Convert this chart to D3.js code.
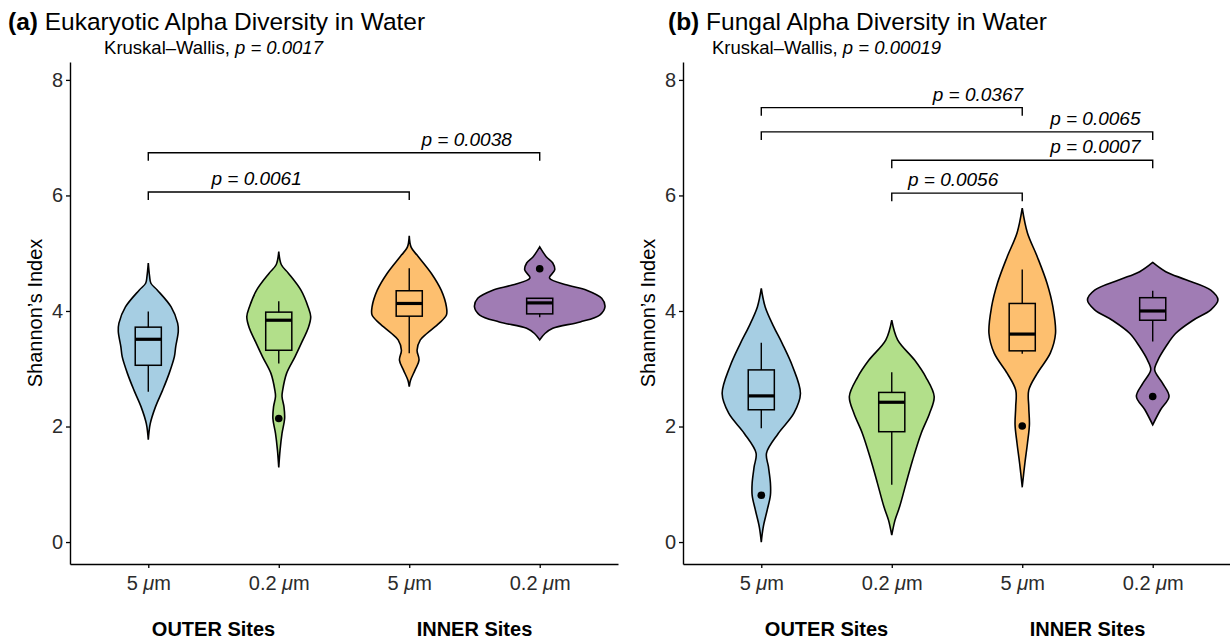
<!DOCTYPE html>
<html>
<head>
<meta charset="utf-8">
<script src="https://cdn.jsdelivr.net/npm/d3@7"></script>
<style>
  body { margin: 0; background: #fff; }
  svg { font-family: "Liberation Sans", Arial, Helvetica, sans-serif; }
</style>
</head>
<body>
<div id="chart"></div>
<script>
// Categories on the x axis (group index 1..4)
var groupIds = [1, 2, 3, 4];
var sizeLabels = ["5", "0.2", "5", "0.2"];
var siteLabels = ["OUTER Sites", "INNER Sites"];
var siteCenters = [1.5, 3.5];
var yTicks = [0, 2, 4, 6, 8];

// (a) Eukaryotic: violin outlines as [Shannon index, relative density]
var eukViolins = [
  [[4.83, 0], [4.6, 0.02], [4.48, 0.04], [4.36, 0.14], [4.07, 0.35], [3.79, 0.45], [3.65, 0.46],
   [3.38, 0.42], [3.21, 0.40], [2.92, 0.32], [2.63, 0.22], [2.34, 0.11], [2.05, 0.03], [1.77, 0]],
  [[5.03, 0], [4.8, 0.04], [4.65, 0.15], [4.36, 0.34], [4.07, 0.45], [3.9, 0.49], [3.7, 0.45],
   [3.5, 0.37], [3.21, 0.25], [2.92, 0.12], [2.63, 0.06], [2.52, 0.05], [2.34, 0.08], [2.14, 0.09],
   [1.88, 0.05], [1.59, 0.02], [1.29, 0]],
  [[5.3, 0], [5.1, 0.03], [4.94, 0.14], [4.65, 0.34], [4.36, 0.49], [4.07, 0.57], [3.93, 0.57],
   [3.79, 0.46], [3.61, 0.27], [3.5, 0.17], [3.32, 0.12], [3.15, 0.15], [2.98, 0.09], [2.8, 0.02], [2.69, 0]],
  [[5.11, 0], [4.94, 0.10], [4.83, 0.2], [4.71, 0.23], [4.57, 0.15], [4.45, 0.42], [4.36, 0.72],
   [4.22, 0.95], [4.07, 1.0], [3.93, 0.92], [3.81, 0.62], [3.70, 0.2], [3.61, 0.08], [3.5, 0]]
];
var eukBoxes = [
  { lo: 2.60, q1: 3.06, med: 3.51, q3: 3.72, hi: 3.99 },
  { lo: 3.09, q1: 3.32, med: 3.84, q3: 3.98, hi: 4.17 },
  { lo: 3.27, q1: 3.91, med: 4.13, q3: 4.35, hi: 4.74 },
  { lo: 3.89, q1: 3.95, med: 4.14, q3: 4.22, hi: 4.22 }
];
var eukOutliers = [[2, 2.14], [4, 4.73]];
var eukPairs = [
  { from: 1, to: 3, y: 6.06, p: "0.0061", labelAt: 1.83 },
  { from: 1, to: 4, y: 6.74, p: "0.0038", labelAt: 3.44 }
];
var eukKruskal = "0.0017";

// (b) Fungal
var fungViolins = [
  [[4.39, 0], [4.07, 0.06], [3.73, 0.19], [3.44, 0.32], [3.04, 0.48], [2.57, 0.6], [2.23, 0.5],
   [1.88, 0.26], [1.54, 0.08], [1.30, 0.11], [1.02, 0.14], [0.81, 0.14], [0.55, 0.09], [0.26, 0.03], [0.0, 0]],
  [[3.84, 0], [3.5, 0.09], [3.15, 0.35], [2.86, 0.52], [2.52, 0.65], [2.23, 0.58], [1.88, 0.45],
   [1.42, 0.32], [1.02, 0.22], [0.61, 0.12], [0.38, 0.05], [0.12, 0]],
  [[5.78, 0], [5.35, 0.08], [4.94, 0.23], [4.48, 0.38], [4.07, 0.47], [3.61, 0.51], [3.27, 0.43],
   [2.92, 0.23], [2.63, 0.1], [2.34, 0.1], [2.03, 0.11], [1.71, 0.08], [1.36, 0.04], [0.96, 0]],
  [[4.84, 0], [4.68, 0.2], [4.54, 0.51], [4.36, 0.89], [4.19, 1.0], [4.02, 0.89], [3.84, 0.62],
   [3.61, 0.35], [3.38, 0.2], [3.15, 0.08], [2.98, 0.03], [2.75, 0.15], [2.52, 0.25], [2.29, 0.12], [2.03, 0]]
];
var fungBoxes = [
  { lo: 1.97, q1: 2.29, med: 2.53, q3: 2.98, hi: 3.45 },
  { lo: 0.99, q1: 1.91, med: 2.42, q3: 2.59, hi: 2.94 },
  { lo: 3.26, q1: 3.31, med: 3.60, q3: 4.13, hi: 4.72 },
  { lo: 3.47, q1: 3.84, med: 4.00, q3: 4.23, hi: 4.35 }
];
var fungOutliers = [[1, 0.81], [3, 2.01], [4, 2.52]];
var fungPairs = [
  { from: 2, to: 3, y: 6.04, p: "0.0056", labelAt: 2.47 },
  { from: 2, to: 4, y: 6.61, p: "0.0007", labelAt: 3.56 },
  { from: 1, to: 4, y: 7.10, p: "0.0065", labelAt: 3.56 },
  { from: 1, to: 3, y: 7.52, p: "0.0367", labelAt: 2.66 }
];
var fungKruskal = "0.00019";

var fills = ["#a6cee3", "#b2df8a", "#fdbf6f", "#a07cb4"];

var svg = d3.select("#chart").append("svg")
  .attr("width", 1230)
  .attr("height", 640);

var panels = [
  { letter: "(a)", title: " Eukaryotic Alpha Diversity in Water", titleX: 8, left: 70, right: 618,
    violins: eukViolins, boxes: eukBoxes, outliers: eukOutliers, pairs: eukPairs, kw: eukKruskal },
  { letter: "(b)", title: " Fungal Alpha Diversity in Water", titleX: 668, left: 683, right: 1231,
    violins: fungViolins, boxes: fungBoxes, outliers: fungOutliers, pairs: fungPairs, kw: fungKruskal }
];

var plotTop = 62, plotBottom = 564;

panels.forEach(function(pn) {
  var x = d3.scaleLinear().domain([0.4, 4.6]).range([pn.left, pn.right]);
  var y = d3.scaleLinear().domain([-0.38, 8.31]).range([plotBottom, plotTop]);
  var w = d3.scaleLinear().domain([0, 1]).range([0, x(1.5) - x(1)]);
  var boxHalf = x(1.1) - x(1);

  var g = svg.append("g");

  // titles
  var t = g.append("text").attr("x", pn.titleX).attr("y", 30)
    .style("font-size", "24.5px").attr("fill", "#000");
  t.append("tspan").attr("font-weight", "bold").text(pn.letter);
  t.append("tspan").text(pn.title);

  var kw = g.append("text").attr("x", x(1.5)).attr("y", 54)
    .attr("text-anchor", "middle").style("font-size", "18.5px");
  kw.append("tspan").text("Kruskal\u2013Wallis, ");
  kw.append("tspan").attr("font-style", "italic").text("p = " + pn.kw);

  // axes
  var yAxis = g.append("g")
    .attr("transform", "translate(" + pn.left + ",0)")
    .call(d3.axisLeft(y).tickValues(yTicks).tickSize(4).tickSizeOuter(0).tickPadding(3));
  var xAxis = g.append("g")
    .attr("transform", "translate(0," + plotBottom + ")")
    .call(d3.axisBottom(x).tickValues(groupIds).tickSize(4).tickSizeOuter(0).tickPadding(8).tickFormat(""));

  [yAxis, xAxis].forEach(function(ax) {
    ax.select(".domain").attr("stroke", "#000").attr("stroke-width", 1.4);
    ax.selectAll(".tick line").attr("stroke", "#000").attr("stroke-width", 1.3);
  });
  yAxis.selectAll(".tick text").style("font-size", "20px").attr("fill", "#2b2b2b")
    .style("font-family", "'Liberation Sans', Arial, sans-serif");

  xAxis.selectAll(".tick text").each(function(d, i) {
    var el = d3.select(this).style("font-size", "20px").attr("fill", "#2b2b2b")
      .style("font-family", "'Liberation Sans', Arial, sans-serif");
    el.append("tspan").text(sizeLabels[i] + " ");
    el.append("tspan").attr("font-style", "italic").text("\u03bc");
    el.append("tspan").text("m");
  });

  g.selectAll(".site").data(siteLabels).enter().append("text")
    .attr("x", function(d, i) { return x(siteCenters[i]); })
    .attr("y", 636)
    .attr("text-anchor", "middle")
    .attr("font-weight", "bold")
    .style("font-size", "20px")
    .text(function(d) { return d; });

  g.append("text")
    .attr("transform", "translate(" + (pn.left - 28) + "," + ((plotTop + plotBottom) / 2) + ") rotate(-90)")
    .attr("text-anchor", "middle")
    .style("font-size", "20px")
    .text("Shannon\u2019s Index");

  // violins
  pn.violins.forEach(function(pts, i) {
    var cx = x(groupIds[i]);
    var area = d3.area()
      .y(function(d) { return y(d[0]); })
      .x0(function(d) { return cx - w(d[1]); })
      .x1(function(d) { return cx + w(d[1]); })
      .curve(d3.curveCatmullRom);
    g.append("path")
      .attr("d", area(pts))
      .attr("fill", fills[i])
      .attr("stroke", "#000")
      .attr("stroke-width", 1.6);
  });

  // box plots
  pn.boxes.forEach(function(b, i) {
    var cx = x(groupIds[i]);
    g.append("line").attr("x1", cx).attr("x2", cx).attr("y1", y(b.q3)).attr("y2", y(b.hi))
      .attr("stroke", "#000").attr("stroke-width", 1.4);
    g.append("line").attr("x1", cx).attr("x2", cx).attr("y1", y(b.q1)).attr("y2", y(b.lo))
      .attr("stroke", "#000").attr("stroke-width", 1.4);
    g.append("rect")
      .attr("x", cx - boxHalf).attr("y", y(b.q3))
      .attr("width", boxHalf * 2).attr("height", y(b.q1) - y(b.q3))
      .attr("fill", "none").attr("stroke", "#000").attr("stroke-width", 1.5);
    g.append("line").attr("x1", cx - boxHalf).attr("x2", cx + boxHalf)
      .attr("y1", y(b.med)).attr("y2", y(b.med))
      .attr("stroke", "#000").attr("stroke-width", 3.2);
  });

  g.selectAll(".outlier").data(pn.outliers).enter().append("circle")
    .attr("cx", function(d) { return x(d[0]); })
    .attr("cy", function(d) { return y(d[1]); })
    .attr("r", 3.8)
    .attr("fill", "#000");

  // significance brackets
  pn.pairs.forEach(function(c) {
    var yl = y(c.y);
    g.append("path")
      .attr("d", "M" + x(c.from) + "," + (yl + 8) + "V" + yl + "H" + x(c.to) + "V" + (yl + 8))
      .attr("fill", "none").attr("stroke", "#000").attr("stroke-width", 1.4);
    g.append("text")
      .attr("x", x(c.labelAt)).attr("y", yl - 7)
      .attr("text-anchor", "middle")
      .attr("font-style", "italic")
      .style("font-size", "19px")
      .text("p = " + c.p);
  });
});
</script>
</body>
</html>
